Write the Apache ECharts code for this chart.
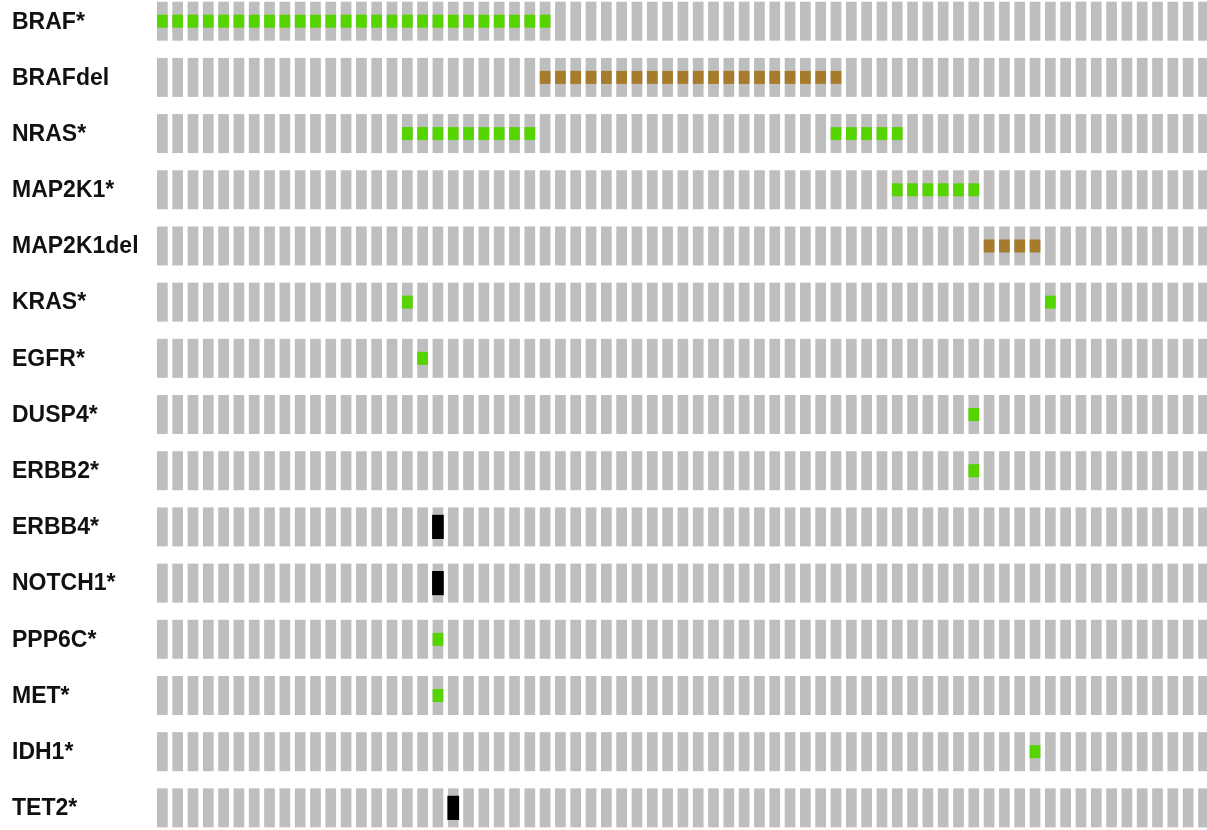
<!DOCTYPE html>
<html>
<head>
<meta charset="utf-8">
<title>Oncoprint</title>
<script src="https://cdn.jsdelivr.net/npm/echarts@6/dist/echarts.min.js"></script>
<style>
  html, body { margin: 0; padding: 0; background: #ffffff; }
  #chart { width: 1207px; height: 830px; }
</style>
</head>
<body>
<div id="chart"></div>
<script>
// Genes (rows, top to bottom)
const genes = ['BRAF*', 'BRAFdel', 'NRAS*', 'MAP2K1*', 'MAP2K1del', 'KRAS*', 'EGFR*',
  'DUSP4*', 'ERBB2*', 'ERBB4*', 'NOTCH1*', 'PPP6C*', 'MET*', 'IDH1*', 'TET2*'];

// Number of samples (columns)
const sampleCount = 69;

// Altered samples per gene, grouped by alteration kind
const mutation = {
  'BRAF*': [0, 1, 2, 3, 4, 5, 6, 7, 8, 9, 10, 11, 12, 13, 14, 15, 16, 17, 18, 19, 20, 21, 22, 23, 24, 25],
  'NRAS*': [16, 17, 18, 19, 20, 21, 22, 23, 24, 44, 45, 46, 47, 48],
  'MAP2K1*': [48, 49, 50, 51, 52, 53],
  'KRAS*': [16, 58],
  'EGFR*': [17],
  'DUSP4*': [53],
  'ERBB2*': [53],
  'PPP6C*': [18],
  'MET*': [18],
  'IDH1*': [57]
};
const deletion = {
  'BRAFdel': [25, 26, 27, 28, 29, 30, 31, 32, 33, 34, 35, 36, 37, 38, 39, 40, 41, 42, 43, 44],
  'MAP2K1del': [54, 55, 56, 57]
};
const truncating = {
  'ERBB4*': [18],
  'NOTCH1*': [18],
  'TET2*': [19]
};

// Drawing constants
const COL_PX = 15.31;    // column slot width in pixels
const ROW_PX = 56.19;    // row slot height in pixels
const COL_FILL = 0.7;    // fraction of a column slot covered by a bar
const ROW_FILL = 0.694;  // fraction of a row slot covered by a bar
const GRID_LEFT = 157, GRID_TOP = 1.7, VIEW_W = 1207, VIEW_H = 830;
const colors = { base: '#bebebe', mutation: '#55d400', deletion: '#a67c2c', truncating: '#000000' };

const baseCells = [];
genes.forEach((g, r) => { for (let c = 0; c < sampleCount; c++) baseCells.push([c, r]); });

const altCells = [];
function addKind(table, kind) {
  Object.keys(table).forEach(g => {
    const r = genes.indexOf(g);
    table[g].forEach(c => altCells.push([c, r, kind]));
  });
}
addKind(mutation, 'mutation');
addKind(deletion, 'deletion');
addKind(truncating, 'truncating');

function cellBox(api, col, row) {
  const p0 = api.coord([col, row]);
  const p1 = api.coord([col + COL_FILL, row + ROW_FILL]);
  return { x: p0[0], y: p0[1], w: p1[0] - p0[0], h: p1[1] - p0[1] };
}

const chart = echarts.init(document.getElementById('chart'), null, { renderer: 'canvas' });
chart.setOption({
  animation: false,
  backgroundColor: '#ffffff',
  grid: { left: GRID_LEFT, top: GRID_TOP, right: 0, bottom: 0 },
  xAxis: { type: 'value', min: 0, max: (VIEW_W - GRID_LEFT) / COL_PX, show: false },
  yAxis: { type: 'value', min: 0, max: (VIEW_H - GRID_TOP) / ROW_PX, inverse: true, show: false },
  series: [
    {
      type: 'custom',
      data: baseCells,
      clip: false,
      renderItem: (params, api) => {
        const b = cellBox(api, api.value(0), api.value(1));
        return { type: 'rect', shape: { x: b.x, y: b.y, width: b.w, height: b.h },
                 style: { fill: colors.base } };
      }
    },
    {
      type: 'custom',
      data: altCells,
      clip: false,
      encode: { x: 0, y: 1 },
      renderItem: (params, api) => {
        const item = altCells[params.dataIndex];
        const b = cellBox(api, item[0], item[1]);
        const kind = item[2];
        let h, x = b.x, w = b.w;
        if (kind === 'truncating') { h = b.h * 0.62; x -= 0.5; w += 1; }
        else { h = b.h / 3; }
        return { type: 'rect', shape: { x: x, y: b.y + (b.h - h) / 2, width: w, height: h },
                 style: { fill: colors[kind] } };
      }
    },
    {
      type: 'custom',
      data: genes.map((g, r) => [0, r]),
      clip: false,
      renderItem: (params, api) => {
        const b = cellBox(api, 0, api.value(1));
        return { type: 'text', x: 12, y: b.y + b.h / 2 + 1,
                 style: { text: genes[params.dataIndex], fill: '#111111',
                          font: 'bold 23px "Liberation Sans", Arial, sans-serif',
                          textAlign: 'left', textVerticalAlign: 'middle' } };
      }
    }
  ]
});
</script>
</body>
</html>
